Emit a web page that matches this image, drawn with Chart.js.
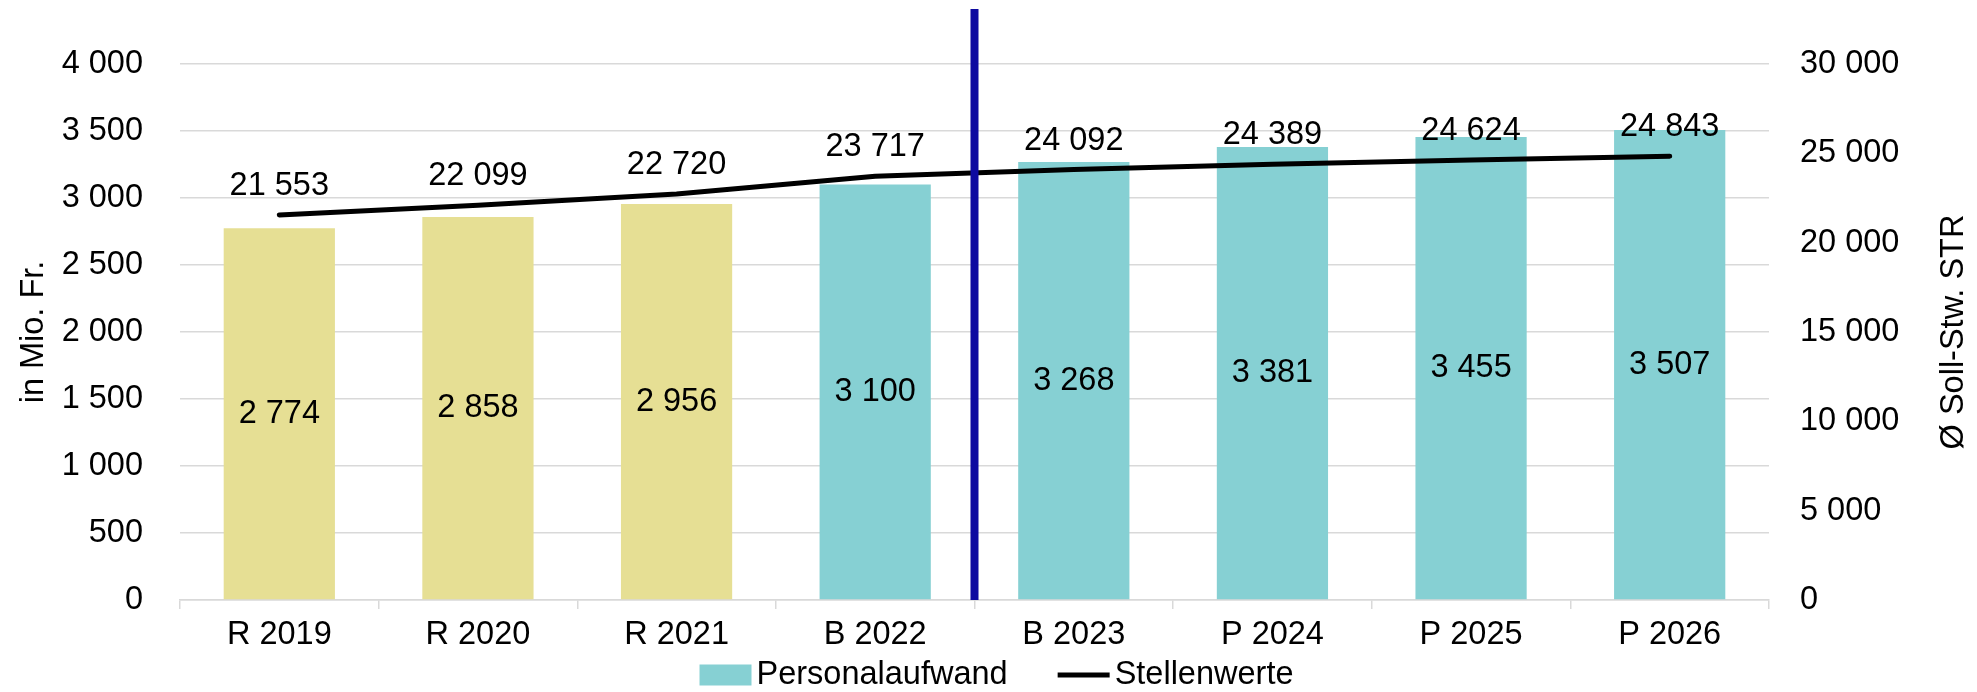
<!DOCTYPE html>
<html><head><meta charset="utf-8">
<script src="https://cdn.jsdelivr.net/npm/chart.js@4.4.1/dist/chart.umd.min.js"></script>
<style>html,body{margin:0;padding:0;background:#fff;}#wrap{width:1977px;height:692px;}</style>
</head><body><div id="wrap"><canvas id="c" width="1977" height="692"></canvas></div>
<script>
const categories = ['R 2019','R 2020','R 2021','B 2022','B 2023','P 2024','P 2025','P 2026'];
const personalaufwand = [2774, 2858, 2956, 3100, 3268, 3381, 3455, 3507];
const stellenwerte = [21553, 22099, 22720, 23717, 24092, 24389, 24624, 24843];
const leftTicks = [0, 500, 1000, 1500, 2000, 2500, 3000, 3500, 4000];
const rightTicks = [0, 5000, 10000, 15000, 20000, 25000, 30000];
const seriesNames = ['Personalaufwand', 'Stellenwerte'];
const axisTitles = ['in Mio. Fr.', 'Ø Soll-Stw. STR'];

const FONT = "'Liberation Sans', Arial, sans-serif";
const FS = 32.5;
const YELLOW = '#E6DF94', TEAL = '#86D0D3', GRID = '#D9D9D9', BLUE = '#0E0AA0';
const fmt = v => String(v).replace(/\B(?=(\d{3})+(?!\d))/g, ' ');

const overlay = {
  id: 'overlay',
  afterDatasetsDraw(chart) {
    const ctx = chart.ctx, x = chart.scales.x, area = chart.chartArea;
    ctx.save();
    ctx.fillStyle = '#000';
    ctx.font = FS + 'px ' + FONT;
    ctx.textAlign = 'center';
    ctx.textBaseline = 'middle';
    chart.getDatasetMeta(0).data.forEach((el, i) => {
      ctx.fillText(fmt(personalaufwand[i]), el.x, (el.y + el.base) / 2);
    });
    chart.getDatasetMeta(1).data.forEach((el, i) => {
      ctx.fillText(fmt(stellenwerte[i]), el.x, el.y - 29);
    });
    const sx = (x.getPixelForValue(3) + x.getPixelForValue(4)) / 2;
    ctx.strokeStyle = BLUE;
    ctx.lineWidth = 8;
    ctx.beginPath();
    ctx.moveTo(sx, 9);
    ctx.lineTo(sx, area.bottom);
    ctx.stroke();
    ctx.restore();
  },
  afterDraw(chart) {
    const ctx = chart.ctx, area = chart.chartArea;
    ctx.save();
    ctx.fillStyle = '#000';
    ctx.font = FS + 'px ' + FONT;
    ctx.translate(1954, (area.top + area.bottom) / 2);
    ctx.rotate(-Math.PI / 2);
    ctx.textAlign = 'center';
    ctx.textBaseline = 'middle';
    ctx.fillText(axisTitles[1], 0, 0);
    ctx.restore();
    ctx.save();
    ctx.font = FS + 'px ' + FONT;
    ctx.textBaseline = 'middle';
    ctx.textAlign = 'left';
    ctx.fillStyle = '#000';
    const boxW = 52, gapText = 5, gapItems = 50, cy = 675;
    const w1 = ctx.measureText(seriesNames[0]).width, w2 = ctx.measureText(seriesNames[1]).width;
    const total = boxW + gapText + w1 + gapItems + boxW + gapText + w2;
    let lx = (area.left + area.right) / 2 + 22 - total / 2;
    ctx.fillStyle = TEAL;
    ctx.fillRect(lx, cy - 10.5, boxW, 21);
    ctx.fillStyle = '#000';
    ctx.fillText(seriesNames[0], lx + boxW + gapText, cy);
    lx += boxW + gapText + w1 + gapItems;
    ctx.strokeStyle = '#000';
    ctx.lineWidth = 5;
    ctx.beginPath();
    ctx.moveTo(lx, cy);
    ctx.lineTo(lx + boxW, cy);
    ctx.stroke();
    ctx.fillText(seriesNames[1], lx + boxW + gapText, cy);
    ctx.restore();
  }
};

new Chart(document.getElementById('c'), {
  data: {
    labels: categories,
    datasets: [
      {
        type: 'bar', label: seriesNames[0], data: personalaufwand, yAxisID: 'y',
        backgroundColor: c => categories[c.dataIndex].startsWith('R') ? YELLOW : TEAL,
        categoryPercentage: 1, barPercentage: 0.56, order: 1
      },
      {
        type: 'line', label: seriesNames[1], data: stellenwerte, yAxisID: 'y1',
        borderColor: '#000', borderWidth: 5, pointRadius: 0, tension: 0,
        borderCapStyle: 'round', borderJoinStyle: 'round', order: 0
      }
    ]
  },
  options: {
    responsive: false, animation: false, devicePixelRatio: 1,
    layout: { padding: { top: 64, left: 0, right: 0, bottom: 0 } },
    plugins: { legend: { display: false }, tooltip: { enabled: false } },
    scales: {
      x: {
        grid: { offset: true, drawOnChartArea: false, drawTicks: true, tickLength: 9, color: GRID, lineWidth: 1.5 },
        border: { color: GRID, width: 1.5 },
        ticks: { color: '#000', font: { family: FONT, size: FS }, padding: 7, maxRotation: 0, autoSkip: false },
        afterFit: s => { s.height = 92; }
      },
      y: {
        position: 'left', min: 0, max: 4000,
        afterBuildTicks: s => { s.ticks = leftTicks.map(v => ({ value: v })); },
        grid: { color: GRID, lineWidth: 1.5, drawTicks: false },
        border: { display: false },
        ticks: { color: '#000', font: { family: FONT, size: FS }, padding: 37, callback: v => fmt(v) },
        title: { display: true, text: axisTitles[0], color: '#000', font: { family: FONT, size: FS }, padding: { top: 15, bottom: 0 } },
        afterFit: s => { s.width = 180; }
      },
      y1: {
        position: 'right', min: 0, max: 30000,
        afterBuildTicks: s => { s.ticks = rightTicks.map(v => ({ value: v })); },
        grid: { drawOnChartArea: false, drawTicks: false },
        border: { display: false },
        ticks: { color: '#000', font: { family: FONT, size: FS }, padding: 31, callback: v => fmt(v) },
        afterFit: s => { s.width = 208; }
      }
    }
  },
  plugins: [overlay]
});
</script></body></html>
